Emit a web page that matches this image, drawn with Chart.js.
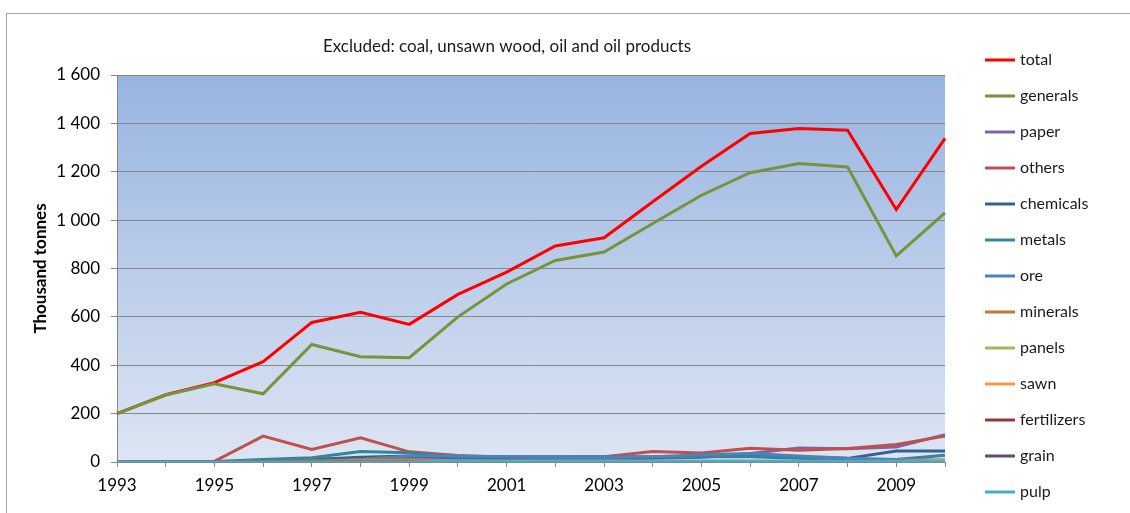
<!DOCTYPE html>
<html>
<head>
<meta charset="utf-8">
<script src="https://cdn.jsdelivr.net/npm/chart.js@4.4.1/dist/chart.umd.min.js"></script>
<style>
  html, body { margin: 0; padding: 0; background: #fff; }
  #wrap { width: 1130px; height: 513px; }
</style>
</head>
<body>
<div id="wrap"><canvas id="freightChart" width="1130" height="513"></canvas></div>
<script>
// Thousand tonnes per year, by cargo group
const years = ['1993', '1994', '1995', '1996', '1997', '1998', '1999', '2000', '2001',
               '2002', '2003', '2004', '2005', '2006', '2007', '2008', '2009', '2010'];

const total       = [200, 278, 328, 415, 577, 619, 569, 693, 785, 893, 927, 1076, 1223, 1358, 1379, 1372, 1044, 1338];
const generals    = [200, 277, 323, 282, 486, 435, 431, 600, 736, 833, 868, 986, 1103, 1196, 1234, 1220, 852, 1030];
const paper       = [0, 0, 0, 0, 0, 15, 20, 15, 10, 10, 10, 15, 20, 35, 58, 55, 62, 113];
const others      = [0, 0, 3, 107, 52, 100, 42, 27, 20, 20, 22, 43, 37, 57, 49, 56, 72, 107];
const chemicals   = [0, 0, 0, 5, 10, 20, 25, 20, 20, 20, 20, 20, 22, 25, 20, 15, 45, 45];
const metals      = [0, 0, 2, 10, 18, 43, 38, 22, 22, 22, 22, 22, 22, 22, 15, 10, 10, 28];
const ore         = [0, 0, 0, 0, 0, 10, 25, 25, 22, 20, 20, 22, 30, 35, 25, 15, 10, 8];
const minerals    = [0, 0, 0, 2, 5, 8, 8, 5, 3, 3, 3, 3, 3, 3, 3, 3, 3, 5];
const panels      = [0, 0, 0, 0, 2, 3, 3, 3, 3, 3, 3, 2, 2, 2, 2, 2, 2, 2];
const sawn        = [0, 0, 0, 0, 0, 3, 3, 2, 2, 2, 2, 2, 2, 2, 2, 2, 2, 8];
const fertilizers = [0, 0, 0, 0, 0, 0, 0, 0, 0, 0, 0, 0, 0, 0, 0, 0, 0, 0];
const grain       = [0, 0, 0, 0, 0, 0, 0, 0, 0, 0, 0, 0, 0, 0, 0, 0, 0, 0];
const pulp        = [0, 0, 0, 0, 0, 0, 0, 5, 3, 3, 3, 3, 3, 3, 3, 3, 3, 3];

const yTicks = [0, 200, 400, 600, 800, 1000, 1200, 1400, 1600];

const series = [
    ['total', total, '#ff0000'],
    ['generals', generals, '#77933c'],
    ['paper', paper, '#8064a2'],
    ['others', others, '#c0504d'],
    ['chemicals', chemicals, '#376092'],
    ['metals', metals, '#31859c'],
    ['ore', ore, '#4f81bd'],
    ['minerals', minerals, '#c0772f'],
    ['panels', panels, '#9bbb59'],
    ['sawn', sawn, '#f79646'],
    ['fertilizers', fertilizers, '#953735'],
    ['grain', grain, '#604a7b'],
    ['pulp', pulp, '#4bacc6'],
];

const FONT = 'Lato, "Open Sans", sans-serif';

// thousands with a space: 1 600
function spaced(v) {
    if (v < 1000) return String(v);
    const rest = String(v % 1000).padStart(3, '0');
    return Math.floor(v / 1000) + ' ' + rest;
}

// background gradient, outer frame, title and the legend column
const frameAndLegend = {
    id: 'frameAndLegend',
    beforeDraw(chart) {
        const { ctx, chartArea: a } = chart;
        ctx.save();
        ctx.fillStyle = '#ffffff';
        ctx.fillRect(0, 0, chart.width, chart.height);
        ctx.strokeStyle = '#a6a6a6';
        ctx.lineWidth = 1;
        ctx.strokeRect(6.5, 13.5, chart.width, chart.height);
        const g = ctx.createLinearGradient(0, a.top, 0, a.bottom);
        g.addColorStop(0, '#97b4e0');
        g.addColorStop(1, '#dde5f3');
        ctx.fillStyle = g;
        ctx.fillRect(a.left, a.top, a.right - a.left, a.bottom - a.top);
        ctx.restore();
    },
    afterDraw(chart) {
        const { ctx } = chart;
        ctx.save();
        ctx.fillStyle = '#1a1a1a';
        ctx.font = '17px ' + FONT;
        ctx.textAlign = 'center';
        ctx.textBaseline = 'middle';
        ctx.fillText('Excluded: coal, unsawn wood, oil and oil products', 507, 47);

        ctx.font = '16px ' + FONT;
        ctx.textAlign = 'left';
        chart.data.datasets.forEach((ds, i) => {
            const y = 60 + i * 36;
            ctx.strokeStyle = ds.borderColor;
            ctx.lineWidth = 3;
            ctx.beginPath();
            ctx.moveTo(985, y);
            ctx.lineTo(1015, y);
            ctx.stroke();
            ctx.fillText(ds.label, 1020, y);
        });
        ctx.restore();
    }
};

const ctx = document.getElementById('freightChart');
new Chart(ctx, {
    type: 'line',
    data: {
        labels: years,
        datasets: series.map(([label, data, color], i) => ({
            label: label,
            data: data,
            borderColor: color,
            backgroundColor: color,
            borderWidth: 3,
            pointRadius: 0,
            tension: 0,
            order: series.length - i // later series on top
        }))
    },
    options: {
        responsive: false,
        animation: false,
        layout: { padding: { top: 75, right: 185, left: 0, bottom: 0 } },
        plugins: {
            legend: { display: false },
            title: { display: false },
            tooltip: { enabled: false }
        },
        scales: {
            x: {
                type: 'category',
                offset: false,
                afterFit(scale) { scale.height = 51; },
                grid: {
                    drawOnChartArea: false,
                    drawTicks: true,
                    tickLength: 5,
                    color: '#868686'
                },
                border: { color: '#868686' },
                ticks: {
                    autoSkip: false,
                    maxRotation: 0,
                    padding: 8,
                    color: '#000',
                    font: { family: FONT, size: 17 },
                    callback: (v, i) => (i % 2 === 0 ? years[i] : '')
                }
            },
            y: {
                min: 0,
                max: 1600,
                afterFit(scale) { scale.width = 117; },
                afterBuildTicks(scale) { scale.ticks = yTicks.map(v => ({ value: v })); },
                grid: {
                    color: '#878787',
                    tickLength: 6
                },
                border: { color: '#868686' },
                ticks: {
                    padding: 11,
                    color: '#000',
                    font: { family: FONT, size: 17 },
                    callback: v => spaced(v)
                },
                title: {
                    display: true,
                    text: 'Thousand tonnes',
                    color: '#000',
                    font: { family: FONT, size: 17, weight: 'bold' },
                    padding: { top: 30, bottom: 0 }
                }
            }
        }
    },
    plugins: [frameAndLegend]
});
</script>
</body>
</html>
